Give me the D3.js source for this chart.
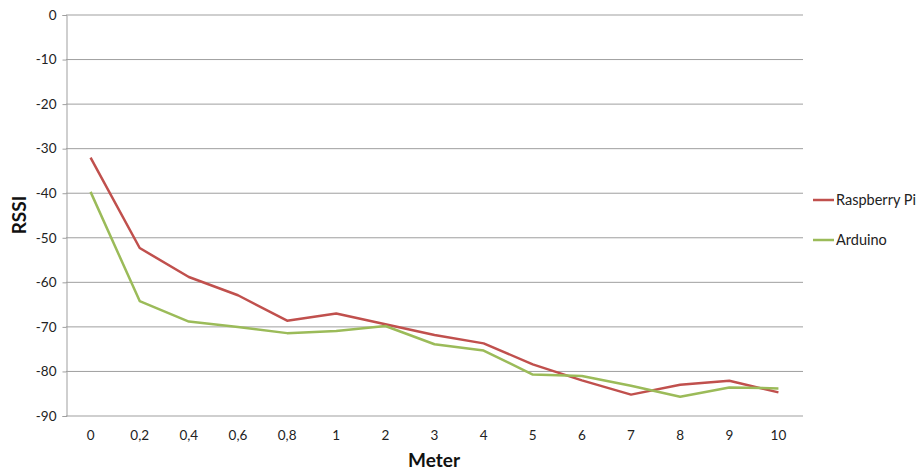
<!DOCTYPE html>
<html>
<head>
<meta charset="utf-8">
<script src="https://cdn.jsdelivr.net/npm/d3@7"></script>
<style>
  html, body { margin: 0; padding: 0; background: #fff; }
  svg { display: block; font-family: Lato, "Open Sans", "Liberation Sans", sans-serif; }
</style>
</head>
<body>
<svg id="chart" width="924" height="472"></svg>
<script>
// Distance categories (meters) as shown on the horizontal axis
const categories = ["0", "0,2", "0,4", "0,6", "0,8", "1", "2", "3", "4", "5", "6", "7", "8", "9", "10"];

// RSSI readings per distance
const raspberryPi = [-32.0, -52.3, -58.8, -62.9, -68.6, -67.0, -69.4, -71.8, -73.7, -78.4, -82.0, -85.2, -83.0, -82.1, -84.7];
const arduino     = [-39.7, -64.2, -68.8, -70.0, -71.4, -70.9, -69.8, -73.9, -75.3, -80.7, -81.0, -83.2, -85.7, -83.6, -83.8];

const seriesNames  = ["Raspberry Pi", "Arduino"];
const seriesColors = ["#C0504D", "#9BBB59"];
const yTicks = [0, -10, -20, -30, -40, -50, -60, -70, -80, -90];

const series = [
  { name: seriesNames[0], color: seriesColors[0], values: raspberryPi },
  { name: seriesNames[1], color: seriesColors[1], values: arduino }
];

const svg = d3.select("#chart");
const plot = { left: 66, right: 803, top: 15, bottom: 416 };

const x = d3.scaleBand().domain(categories).range([plot.left, plot.right]).padding(0);
const y = d3.scaleLinear().domain([-90, 0]).range([plot.bottom, plot.top]);

// Horizontal gridlines
svg.append("g")
  .selectAll("line")
  .data(yTicks)
  .join("line")
  .attr("x1", plot.left)
  .attr("x2", plot.right)
  .attr("y1", d => y(d))
  .attr("y2", d => y(d))
  .attr("stroke", "#9f9f9f")
  .attr("stroke-width", 1);

// Vertical axis with outward ticks
const yAxis = svg.append("g")
  .attr("transform", `translate(${plot.left + 0.5},0)`)
  .call(d3.axisLeft(y).tickValues(yTicks).tickSize(4).tickPadding(6).tickFormat(d => String(d)));
yAxis.select(".domain").attr("stroke", "#9f9f9f");
yAxis.selectAll(".tick line").attr("stroke", "#9f9f9f");
yAxis.selectAll(".tick text")
  .attr("font-size", 13.5)
  .attr("fill", "#222")
  .style("font-family", "Lato, 'Open Sans', sans-serif");

// Horizontal axis labels
const xAxis = svg.append("g")
  .attr("transform", `translate(0,${plot.bottom})`)
  .call(d3.axisBottom(x).tickSize(0).tickPadding(14));
xAxis.select(".domain").remove();
xAxis.selectAll(".tick text")
  .attr("font-size", 13.5)
  .attr("fill", "#222")
  .style("font-family", "Lato, 'Open Sans', sans-serif");

// Series lines
const line = d3.line()
  .x((d, i) => x(categories[i]) + x.bandwidth() / 2)
  .y(d => y(d));

svg.append("g")
  .selectAll("path")
  .data(series)
  .join("path")
  .attr("d", d => line(d.values))
  .attr("fill", "none")
  .attr("stroke", d => d.color)
  .attr("stroke-width", 2.5)
  .attr("stroke-linejoin", "round");

// Axis titles
svg.append("text")
  .attr("transform", "translate(26,215) rotate(-90)")
  .attr("text-anchor", "middle")
  .attr("font-size", 19)
  .attr("font-weight", "bold")
  .attr("fill", "#111")
  .text("RSSI");

svg.append("text")
  .attr("x", 434)
  .attr("y", 467)
  .attr("text-anchor", "middle")
  .attr("font-size", 19)
  .attr("font-weight", "bold")
  .attr("fill", "#111")
  .text("Meter");

// Legend
const legend = svg.append("g")
  .selectAll("g")
  .data(series)
  .join("g")
  .attr("transform", (d, i) => `translate(813,${200 + i * 40})`);
legend.append("line")
  .attr("x1", 0).attr("x2", 21)
  .attr("y1", 0).attr("y2", 0)
  .attr("stroke", d => d.color)
  .attr("stroke-width", 2.5);
legend.append("text")
  .attr("x", 23)
  .attr("y", 5)
  .attr("font-size", 14.5)
  .attr("fill", "#222")
  .text(d => d.name);
</script>
</body>
</html>
